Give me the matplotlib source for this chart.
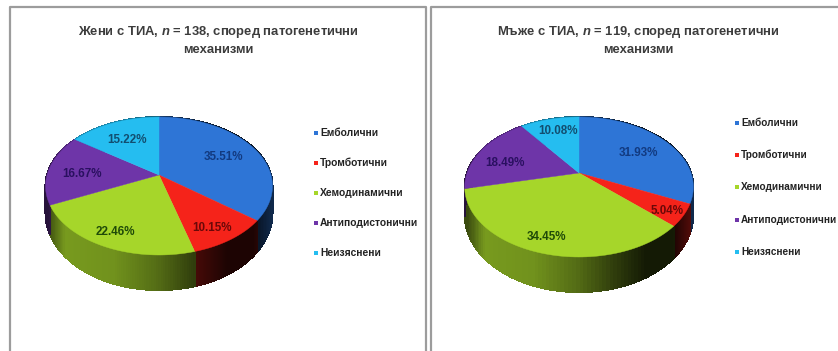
import numpy as np
import matplotlib
matplotlib.use('Agg')
import matplotlib.pyplot as plt
from matplotlib.collections import PolyCollection
from matplotlib.patches import Polygon

plt.rcParams['font.family'] = ['Liberation Sans', 'DejaVu Sans']
plt.rcParams['mathtext.fontset'] = 'custom'
plt.rcParams['mathtext.it'] = 'Liberation Sans:italic:bold'

categories = ['Емболични', 'Тромботични', 'Хемодинамични', 'Антиподистонични', 'Неизяснени']
women = [35.51, 10.15, 22.46, 16.67, 15.22]
men = [31.93, 5.04, 34.45, 18.49, 10.08]
women_title = 'Жени с ТИА, $n$ = 138, според патогенетични\nмеханизми'
men_title = 'Мъже с ТИА, $n$ = 119, според патогенетични\nмеханизми'

colors = ['#2e75d6', '#f5231a', '#a6d62a', '#6e35a8', '#25bdf0']
label_colors = ['#123a80', '#6a0808', '#1f4a08', '#2a1060', '#124e70']


def project(theta, r, c, rx, ry, k):
    # theta runs clockwise from 12 o'clock; far side of the disc is foreshortened
    x = r * np.sin(theta)
    y = r * np.cos(theta)
    w = 1 + k * y
    return c[0] + rx * x / w, c[1] - ry * y / w


def draw_pie(ax, values, c, rx, ry, k, label_xy):
    edges = 2 * np.pi * np.cumsum([0] + list(values)) / sum(values)

    # side wall, shaded from olive on the left to near black on the right
    for i, col in enumerate(colors):
        base = np.array(matplotlib.colors.to_rgb(col))
        th = np.linspace(edges[i], edges[i + 1], 80)
        px, py = project(th, 1, c, rx, ry, k)
        depth = 25 + 10 * np.clip(-np.cos(th), 0, 1)
        quads = []
        shades = []
        for j in range(len(th) - 1):
            quads.append([(px[j], py[j]), (px[j + 1], py[j + 1]),
                          (px[j + 1], py[j + 1] + depth[j + 1]), (px[j], py[j] + depth[j])])
            t = (px[j] - (c[0] - rx)) / (2 * rx)
            s = np.interp(t, [0, 0.08, 0.3, 0.5, 0.65, 0.8, 0.92, 1],
                          [0.35, 0.72, 0.68, 0.5, 0.3, 0.12, 0.12, 0.35])
            shades.append(base * s)
        ax.add_collection(PolyCollection(quads, facecolors=shades, edgecolors=shades,
                                         linewidths=0.8, antialiaseds=False))

    # top face
    for i, col in enumerate(colors):
        th = np.linspace(edges[i], edges[i + 1], 80)
        px, py = project(th, 1, c, rx, ry, k)
        pts = np.column_stack([np.r_[c[0], px], np.r_[c[1], py]])
        ax.add_patch(Polygon(pts, closed=True, facecolor=col, edgecolor=col, linewidth=0.3))

    for v, xy, col in zip(values, label_xy, label_colors):
        ax.text(xy[0], xy[1], '%.2f%%' % v, color=col, fontsize=8.4, fontweight='bold',
                ha='center', va='center')


def draw_legend(ax, x, y0, step, size):
    for i, name in enumerate(categories):
        ax.scatter([x], [y0 + i * step], marker='s', s=11, color=colors[i], linewidths=0)
        ax.text(x + 4, y0 + i * step, name, color='#222222', fontsize=size, fontweight='bold',
                ha='left', va='center')


fig = plt.figure(figsize=(8.38, 3.51), dpi=100)
ax = fig.add_axes([0, 0, 1, 1])
ax.set_xlim(0, 838)
ax.set_ylim(351, 0)
ax.axis('off')

# panel frames, open at the bottom; the right panel runs off the edge
frame = '#9c9c9c'
ax.plot([10, 10, 426, 426], [351, 7, 7, 351], color=frame, lw=1.6)
ax.plot([431, 431, 838], [351, 7, 7], color=frame, lw=1.6)

ax.text(218, 40, women_title, ha='center', va='center', fontsize=9.4, fontweight='bold',
        color='#3c3c3c', linespacing=1.55)
ax.text(638, 40, men_title, ha='center', va='center', fontsize=9.4, fontweight='bold',
        color='#3c3c3c', linespacing=1.55)

draw_pie(ax, women, (159, 175), 112, 67.2, 0.16,
         [(223, 157), (212, 228), (115, 232), (82, 174), (127, 140)])
draw_pie(ax, men, (579, 173), 112, 67.2, 0.20,
         [(638, 153), (667, 211), (546, 237), (505, 163), (558, 131)])

draw_legend(ax, 316, 133, 30, 7.4)
draw_legend(ax, 737, 123, 32.2, 7.2)

fig.savefig('out.png', dpi=100)
